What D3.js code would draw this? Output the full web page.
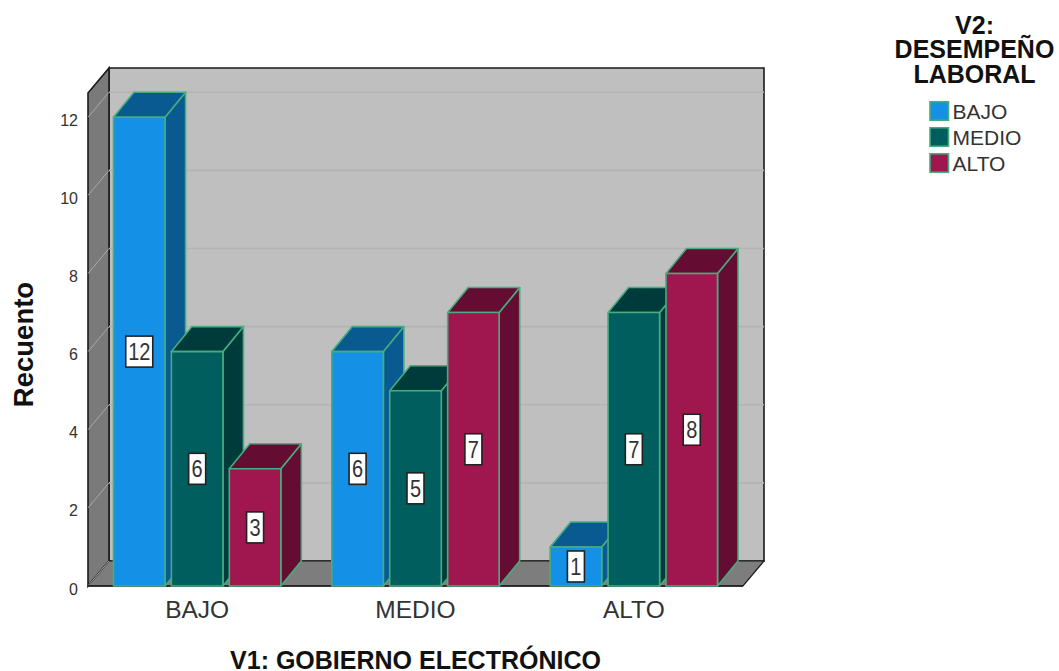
<!DOCTYPE html>
<html>
<head>
<meta charset="utf-8">
<script src="https://cdn.jsdelivr.net/npm/d3@7"></script>
<style>
  html, body { margin: 0; padding: 0; background: #fff; }
  svg { display: block; }
  text { font-family: "Liberation Sans", Arial, sans-serif; }
</style>
</head>
<body>
<svg id="chart" width="1059" height="671"></svg>
<script>
const categories = ["BAJO", "MEDIO", "ALTO"];
const seriesNames = ["BAJO", "MEDIO", "ALTO"];
const bajoValues = [12, 6, 1];
const medioValues = [6, 5, 7];
const altoValues = [3, 7, 8];
const seriesValues = [bajoValues, medioValues, altoValues];
const yTicks = [0, 2, 4, 6, 8, 10, 12];
const yMax = 12.62;

const frontColors = ["#1490e6", "#005e5e", "#a0174f"];
const topColors = ["#085a90", "#003b3b", "#640c31"];
const sideColors = ["#085a90", "#003b3b", "#640c31"];
const edge = "#45ad7e";
const inkSoft = "#333";
const inkBold = "#111";

const svg = d3.select("#chart");

// Oblique projection offsets of the chart box and of each bar
const depthX = 21, depthY = -25;
const barDepthX = 20.5, barDepthY = -25;

const x0 = d3.scaleBand().domain(categories).range([88, 743]);
const x1 = d3.scaleBand().domain(d3.range(3)).range([0, x0.bandwidth()])
  .paddingInner(0.11).paddingOuter(0.44);
const y = d3.scaleLinear().domain([0, yMax]).range([586, 93]);

const [plotLeft, plotRight] = x0.range();
const plotBottom = y(0), plotTop = y(yMax);
const poly = pts => pts.map(p => p.join(",")).join(" ");

// Back wall
svg.append("polygon")
  .attr("points", poly([[plotLeft + depthX, plotTop + depthY], [plotRight + depthX, plotTop + depthY],
                        [plotRight + depthX, plotBottom + depthY], [plotLeft + depthX, plotBottom + depthY]]))
  .attr("fill", "#bfbfbf").attr("stroke", "#1a1a1a").attr("stroke-width", 1.6);

// Left wall
svg.append("polygon")
  .attr("points", poly([[plotLeft, plotTop], [plotLeft + depthX, plotTop + depthY],
                        [plotLeft + depthX, plotBottom + depthY], [plotLeft, plotBottom]]))
  .attr("fill", "#7a7a7a").attr("stroke", "#1a1a1a").attr("stroke-width", 1.6);

// Floor
svg.append("polygon")
  .attr("points", poly([[plotLeft, plotBottom], [plotRight, plotBottom],
                        [plotRight + depthX, plotBottom + depthY], [plotLeft + depthX, plotBottom + depthY]]))
  .attr("fill", "#7d7d7d").attr("stroke", "#1a1a1a").attr("stroke-width", 1.2);

// Gridlines across the left wall and the back wall
const grid = svg.append("g");
yTicks.forEach(t => {
  grid.append("line")
    .attr("x1", plotLeft).attr("y1", y(t)).attr("x2", plotLeft + depthX).attr("y2", y(t) + depthY)
    .attr("stroke", "#a9a9a9").attr("stroke-width", 1);
  if (t === 0) return;
  grid.append("line")
    .attr("x1", plotLeft + depthX).attr("y1", y(t) + depthY).attr("x2", plotRight + depthX).attr("y2", y(t) + depthY)
    .attr("stroke", "#b3b3b3").attr("stroke-width", 1.6);
});

// Front baseline
svg.append("line")
  .attr("x1", plotLeft).attr("y1", plotBottom).attr("x2", plotRight).attr("y2", plotBottom)
  .attr("stroke", "#1a1a1a").attr("stroke-width", 1.6);

// Bars, drawn left to right so nearer neighbours overlap correctly
const bars = svg.append("g");
categories.forEach((cat, ci) => {
  seriesValues.forEach((vals, si) => {
    const v = vals[ci];
    const bx = x0(cat) + x1(si);
    const w = x1.bandwidth();
    const by = y(v);
    const g = bars.append("g")
      .attr("stroke", edge).attr("stroke-width", 1.6).attr("stroke-linejoin", "round");
    g.append("polygon")
      .attr("points", poly([[bx + w, by], [bx + w + barDepthX, by + barDepthY],
                            [bx + w + barDepthX, plotBottom + barDepthY], [bx + w, plotBottom]]))
      .attr("fill", sideColors[si]);
    g.append("polygon")
      .attr("points", poly([[bx, by], [bx + barDepthX, by + barDepthY],
                            [bx + w + barDepthX, by + barDepthY], [bx + w, by]]))
      .attr("fill", topColors[si]);
    g.append("rect")
      .attr("x", bx).attr("y", by).attr("width", w).attr("height", plotBottom - by)
      .attr("fill", frontColors[si]);
  });
});

// Value labels centred on each bar's front face
const labels = svg.append("g");
categories.forEach((cat, ci) => {
  seriesValues.forEach((vals, si) => {
    const v = vals[ci];
    const cx = x0(cat) + x1(si) + x1.bandwidth() / 2;
    const cy = (y(v) + plotBottom) / 2;
    const boxW = String(v).length > 1 ? 27 : 17;
    const boxH = 31;
    labels.append("rect")
      .attr("x", cx - boxW / 2).attr("y", cy - boxH / 2)
      .attr("width", boxW).attr("height", boxH)
      .attr("fill", "#fff").attr("stroke", "#222").attr("stroke-width", 1.6);
    labels.append("text")
      .attr("transform", `translate(${cx},${cy + 8.5}) scale(1,1.15)`)
      .attr("text-anchor", "middle").attr("font-size", 20).attr("fill", inkSoft)
      .text(v);
  });
});

// Value axis tick labels sit slightly below their tick positions
const yAxis = d3.axisLeft(y).tickValues(yTicks).tickSize(0).tickPadding(10);
const yG = svg.append("g").attr("transform", `translate(${plotLeft},3)`).call(yAxis);
yG.select(".domain").remove();
yG.selectAll("text").attr("font-size", 16).attr("fill", inkSoft)
  .style("font-family", '"Liberation Sans", Arial, sans-serif');

// Category axis tick labels
const xAxis = d3.axisBottom(x0).tickSize(0).tickPadding(15);
const xG = svg.append("g").attr("transform", `translate(0,${plotBottom})`).call(xAxis);
xG.select(".domain").remove();
xG.selectAll("text").attr("font-size", 24.5).attr("fill", inkSoft)
  .style("font-family", '"Liberation Sans", Arial, sans-serif');

// Axis titles
svg.append("text")
  .attr("transform", "translate(33,344.5) rotate(-90)")
  .attr("text-anchor", "middle").attr("font-size", 27.5).attr("font-weight", "bold").attr("fill", inkBold)
  .text("Recuento");
svg.append("text")
  .attr("x", 415.5).attr("y", 668.5)
  .attr("text-anchor", "middle").attr("font-size", 25).attr("font-weight", "bold").attr("fill", inkBold)
  .text("V1: GOBIERNO ELECTRÓNICO");

// Legend
const legendTitle = ["V2:", "DESEMPEÑO", "LABORAL"];
svg.append("g").selectAll("text").data(legendTitle).join("text")
  .attr("x", 974.5).attr("y", (d, i) => 33.5 + i * 24.5)
  .attr("text-anchor", "middle").attr("font-size", 25).attr("font-weight", "bold").attr("fill", inkBold)
  .text(d => d);

const legendY = d3.scalePoint().domain(seriesNames.map((d, i) => i)).range([111, 163]);
const legend = svg.append("g");
seriesNames.forEach((name, i) => {
  legend.append("rect")
    .attr("x", 930).attr("y", legendY(i) - 9.25).attr("width", 18.5).attr("height", 18.5)
    .attr("fill", frontColors[i]).attr("stroke", edge).attr("stroke-width", 1.6);
  legend.append("text")
    .attr("x", 952.5).attr("y", legendY(i) + 8)
    .attr("font-size", 21).attr("fill", inkSoft)
    .text(name);
});
</script>
</body>
</html>
